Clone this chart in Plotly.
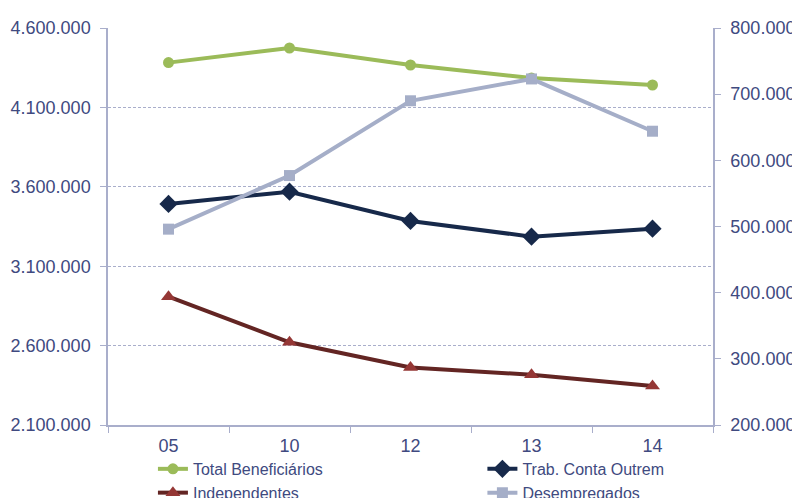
import plotly.graph_objects as go

years = ["05", "10", "12", "13", "14"]
total_benef = [4382000, 4474000, 4367000, 4285000, 4241000]
trab_conta_outrem = [3492000, 3569000, 3385000, 3286000, 3336000]
independentes = [394000, 325000, 287000, 276000, 259000]
desempregados = [496000, 577000, 690000, 723000, 644000]

left_ticks = [2100000, 2600000, 3100000, 3600000, 4100000, 4600000]
left_labels = ["2.100.000", "2.600.000", "3.100.000", "3.600.000", "4.100.000", "4.600.000"]
right_ticks = [200000, 300000, 400000, 500000, 600000, 700000, 800000]
right_labels = ["200.000", "300.000", "400.000", "500.000", "600.000", "700.000", "800.000"]

FONT = "Liberation Sans, Arial, sans-serif"
TXT = "#404A80"
AX = "#A9AECB"

fig = go.Figure()
fig.add_trace(go.Scatter(x=years, y=total_benef, name="Total Beneficiários", mode="lines+markers", legend="legend",
                         line=dict(color="#9BBB59", width=4), marker=dict(symbol="circle", size=11, color="#9BBB59")))
fig.add_trace(go.Scatter(x=years, y=trab_conta_outrem, name="Trab. Conta Outrem", mode="lines+markers", legend="legend2",
                         line=dict(color="#17294A", width=4), marker=dict(symbol="diamond", size=14, color="#17294A")))
fig.add_trace(go.Scatter(x=years, y=independentes, name="Independentes", mode="lines+markers", yaxis="y2", legend="legend",
                         line=dict(color="#632523", width=4), marker=dict(symbol="triangle-up", size=13, color="#953735")))
fig.add_trace(go.Scatter(x=years, y=desempregados, name="Desempregados", mode="lines+markers", yaxis="y2", legend="legend2",
                         line=dict(color="#A5AEC8", width=4), marker=dict(symbol="square", size=11, color="#A5AEC8")))

legend_common = dict(orientation="v", xanchor="left", xref="container", yref="container", y=0.094, yanchor="top",
                     font=dict(size=16, color=TXT), bgcolor="rgba(0,0,0,0)", tracegroupgap=0, itemwidth=30)

fig.update_layout(
    width=792, height=490,
    margin=dict(l=100, r=87, t=20, b=73, autoexpand=False),
    paper_bgcolor="white", plot_bgcolor="white",
    font=dict(family=FONT, color=TXT, size=16),
    xaxis=dict(type="category", tickson="boundaries", ticks="outside", ticklen=6, tickcolor=AX,
               showline=True, linecolor=AX, linewidth=1.5, showgrid=False,
               tickfont=dict(size=18, color=TXT), range=[-0.5, 4.5], ticklabelstandoff=4),
    yaxis=dict(range=[2100000, 4600000], tickvals=left_ticks, ticktext=left_labels,
               ticks="outside", ticklen=6, tickcolor=AX, showline=True, linecolor=AX, linewidth=1.5,
               showgrid=True, gridcolor=AX, griddash="3px,2px", gridwidth=1, zeroline=False,
               tickfont=dict(size=18, color=TXT), ticklabelstandoff=6),
    yaxis2=dict(range=[200000, 800000], tickvals=right_ticks, ticktext=right_labels, overlaying="y", side="right",
                ticks="outside", ticklen=6, tickcolor=AX, showline=True, linecolor=AX, linewidth=1.5,
                showgrid=False, zeroline=False, tickfont=dict(size=18, color=TXT), ticklabelstandoff=6),
    showlegend=True,
    legend=dict(x=0.183, **legend_common),
    legend2=dict(x=0.599, **legend_common),
)

fig.write_html("out.html")
